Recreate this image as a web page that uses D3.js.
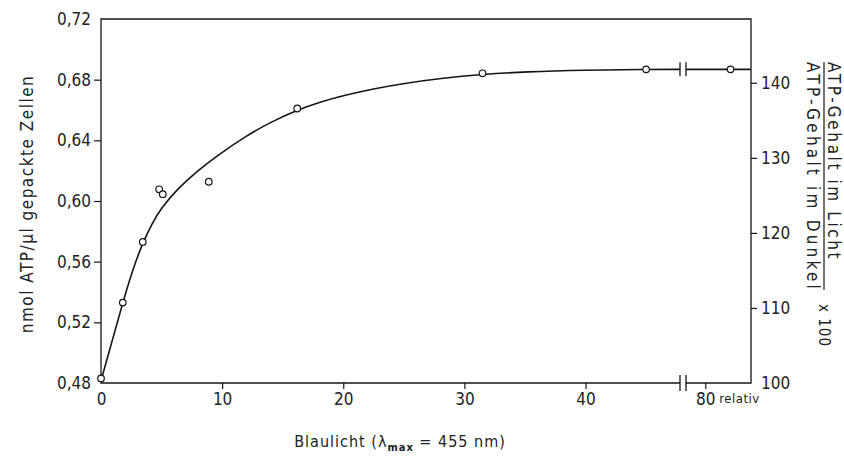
<!DOCTYPE html>
<html>
<head>
<meta charset="utf-8">
<script src="https://cdn.jsdelivr.net/npm/d3@7"></script>
<style>
body { margin: 0; background: #fff; }
text { font-family: "DejaVu Sans Condensed", "Liberation Sans Narrow", "DejaVu Sans", sans-serif; fill: #222; }
</style>
</head>
<body>
<script>
// tick labels
const xTicks = [0, 10, 20, 30, 40, 80];
const leftTicks = [0.48, 0.52, 0.56, 0.60, 0.64, 0.68, 0.72];
const rightTicks = [100, 110, 120, 130, 140];

// measured points (open circles)
const obsX = [0, 1.8, 3.45, 4.8, 5.1, 8.9, 16.2, 31.5, 45.0, 82.1];
const obsY = [0.483, 0.533, 0.573, 0.6077, 0.6045, 0.6127, 0.661, 0.6842, 0.6868, 0.6868];

// fitted curve
const curveX = [0, 1, 1.8, 2.6, 3.45, 4.2, 4.9, 6.3, 7.9, 9.7, 12, 14, 16.2, 18, 20, 22.5, 25, 28, 31.5, 35, 40, 45, 47.8];
const curveY = [0.4815, 0.510, 0.533, 0.5545, 0.5725, 0.585, 0.5945, 0.608, 0.6195, 0.6305, 0.643, 0.652, 0.660, 0.665, 0.6695, 0.674, 0.6775, 0.6808, 0.6836, 0.6852, 0.6863, 0.6868, 0.6868];
const tailX = [78.4, 83.8];
const tailY = [0.6868, 0.6868];

const breakLo = 47.8, breakHi = 78.4, xEnd = 83.8;

const width = 844, height = 467;

const svg = d3.select('body').append('svg')
    .attr('width', width)
    .attr('height', height);

// broken x axis: piecewise scale
const x = d3.scaleLinear()
    .domain([0, breakLo, breakHi, xEnd])
    .range([101, 680, 686, 751]);
const y = d3.scaleLinear()
    .domain([0.48, 0.72])
    .range([383, 19]);
const yR = d3.scaleLinear()
    .domain([100, 148.5])
    .range([383, 19]);

const ink = '#151515';
const fmt = d => d3.format('.2f')(d).replace('.', ',');

// frame
const frame = svg.append('g').attr('fill', 'none').attr('stroke', ink).attr('stroke-width', 1.3);
frame.append('path')
    .attr('d', `M${x(breakLo)},${y(0.48)}H${x(0)}V${y(0.72)}H${x(xEnd)}V${y(0.48)}H${x(breakHi)}`);

// axis break marks
[breakLo, breakHi].forEach(b => {
    frame.append('line')
        .attr('x1', x(b)).attr('x2', x(b))
        .attr('y1', y(0.48) - 8).attr('y2', y(0.48) + 8);
    frame.append('line')
        .attr('x1', x(b)).attr('x2', x(b))
        .attr('y1', y(0.6868) - 7).attr('y2', y(0.6868) + 7);
});

// left axis
const gL = svg.append('g')
    .attr('transform', `translate(${x(0)},0)`)
    .call(d3.axisLeft(y).tickValues(leftTicks).tickFormat(fmt).tickSize(7).tickPadding(3));
gL.select('.domain').remove();
gL.selectAll('.tick').filter(d => d === 0.48 || d === 0.72).select('line').remove();

// right axis
const gR = svg.append('g')
    .attr('transform', `translate(${x(xEnd)},0)`)
    .call(d3.axisRight(yR).tickValues(rightTicks).tickSize(6).tickPadding(4));
gR.select('.domain').remove();
gR.selectAll('.tick').filter(d => d === 100).select('line').remove();

// bottom axis
const gB = svg.append('g')
    .attr('transform', `translate(0,${y(0.48)})`)
    .call(d3.axisBottom(x).tickValues(xTicks).tickFormat(d3.format('d')).tickSize(6).tickPadding(4));
gB.select('.domain').remove();
gB.selectAll('.tick').filter(d => d === 0).select('line').remove();

svg.selectAll('.tick line').attr('stroke', ink).attr('stroke-width', 1.2);
svg.selectAll('.tick text').style('font-size', '17px');

svg.append('text')
    .attr('x', x(80) + 14)
    .attr('y', y(0.48) + 11)
    .attr('dy', '0.71em')
    .style('font-size', '13px')
    .style('letter-spacing', '0.5px')
    .text('relativ');

// curve
const line = d3.line()
    .x(d => x(d[0]))
    .y(d => y(d[1]))
    .curve(d3.curveBasis);

svg.append('path')
    .datum(d3.zip(curveX, curveY))
    .attr('fill', 'none')
    .attr('stroke', ink)
    .attr('stroke-width', 1.6)
    .attr('d', line);
svg.append('path')
    .datum(d3.zip(tailX, tailY))
    .attr('fill', 'none')
    .attr('stroke', ink)
    .attr('stroke-width', 1.6)
    .attr('d', line);

// points
svg.selectAll('circle')
    .data(d3.zip(obsX, obsY))
    .enter()
    .append('circle')
    .attr('cx', d => x(d[0]))
    .attr('cy', d => y(d[1]))
    .attr('r', 3.3)
    .attr('fill', '#fff')
    .attr('stroke', ink)
    .attr('stroke-width', 1.2);

// left title
svg.append('text')
    .attr('transform', 'translate(27,204) rotate(-90)')
    .attr('text-anchor', 'middle')
    .attr('dy', '0.35em')
    .style('font-size', '17px')
    .style('letter-spacing', '1.5px')
    .text('nmol ATP/\u00b5l gepackte Zellen');

// bottom title
const xt = svg.append('text')
    .attr('x', 400)
    .attr('y', 447)
    .attr('text-anchor', 'middle')
    .style('font-size', '16px')
    .style('letter-spacing', '1px');
xt.append('tspan').text('Blaulicht (\u03bb');
xt.append('tspan').attr('dy', 4).style('font-size', '11px').style('font-weight', 'bold').text('max');
xt.append('tspan').attr('dy', -4).text(' = 455 nm)');

// right title (fraction)
const rt = svg.append('g').attr('transform', 'translate(824,62) rotate(90)');
rt.append('text').attr('x', 0).attr('y', -4)
    .style('font-size', '17px').style('letter-spacing', '2.6px')
    .text('ATP-Gehalt im Licht');
rt.append('text').attr('x', 0).attr('y', 17)
    .style('font-size', '17px').style('letter-spacing', '3.2px')
    .text('ATP-Gehalt im Dunkel');
rt.append('line')
    .attr('x1', 0).attr('x2', 228).attr('y1', 0).attr('y2', 0)
    .attr('stroke', ink).attr('stroke-width', 1.2);
rt.append('text').attr('x', 242).attr('y', 5)
    .style('font-size', '15px').style('letter-spacing', '1px')
    .text('x 100');
</script>
</body>
</html>
